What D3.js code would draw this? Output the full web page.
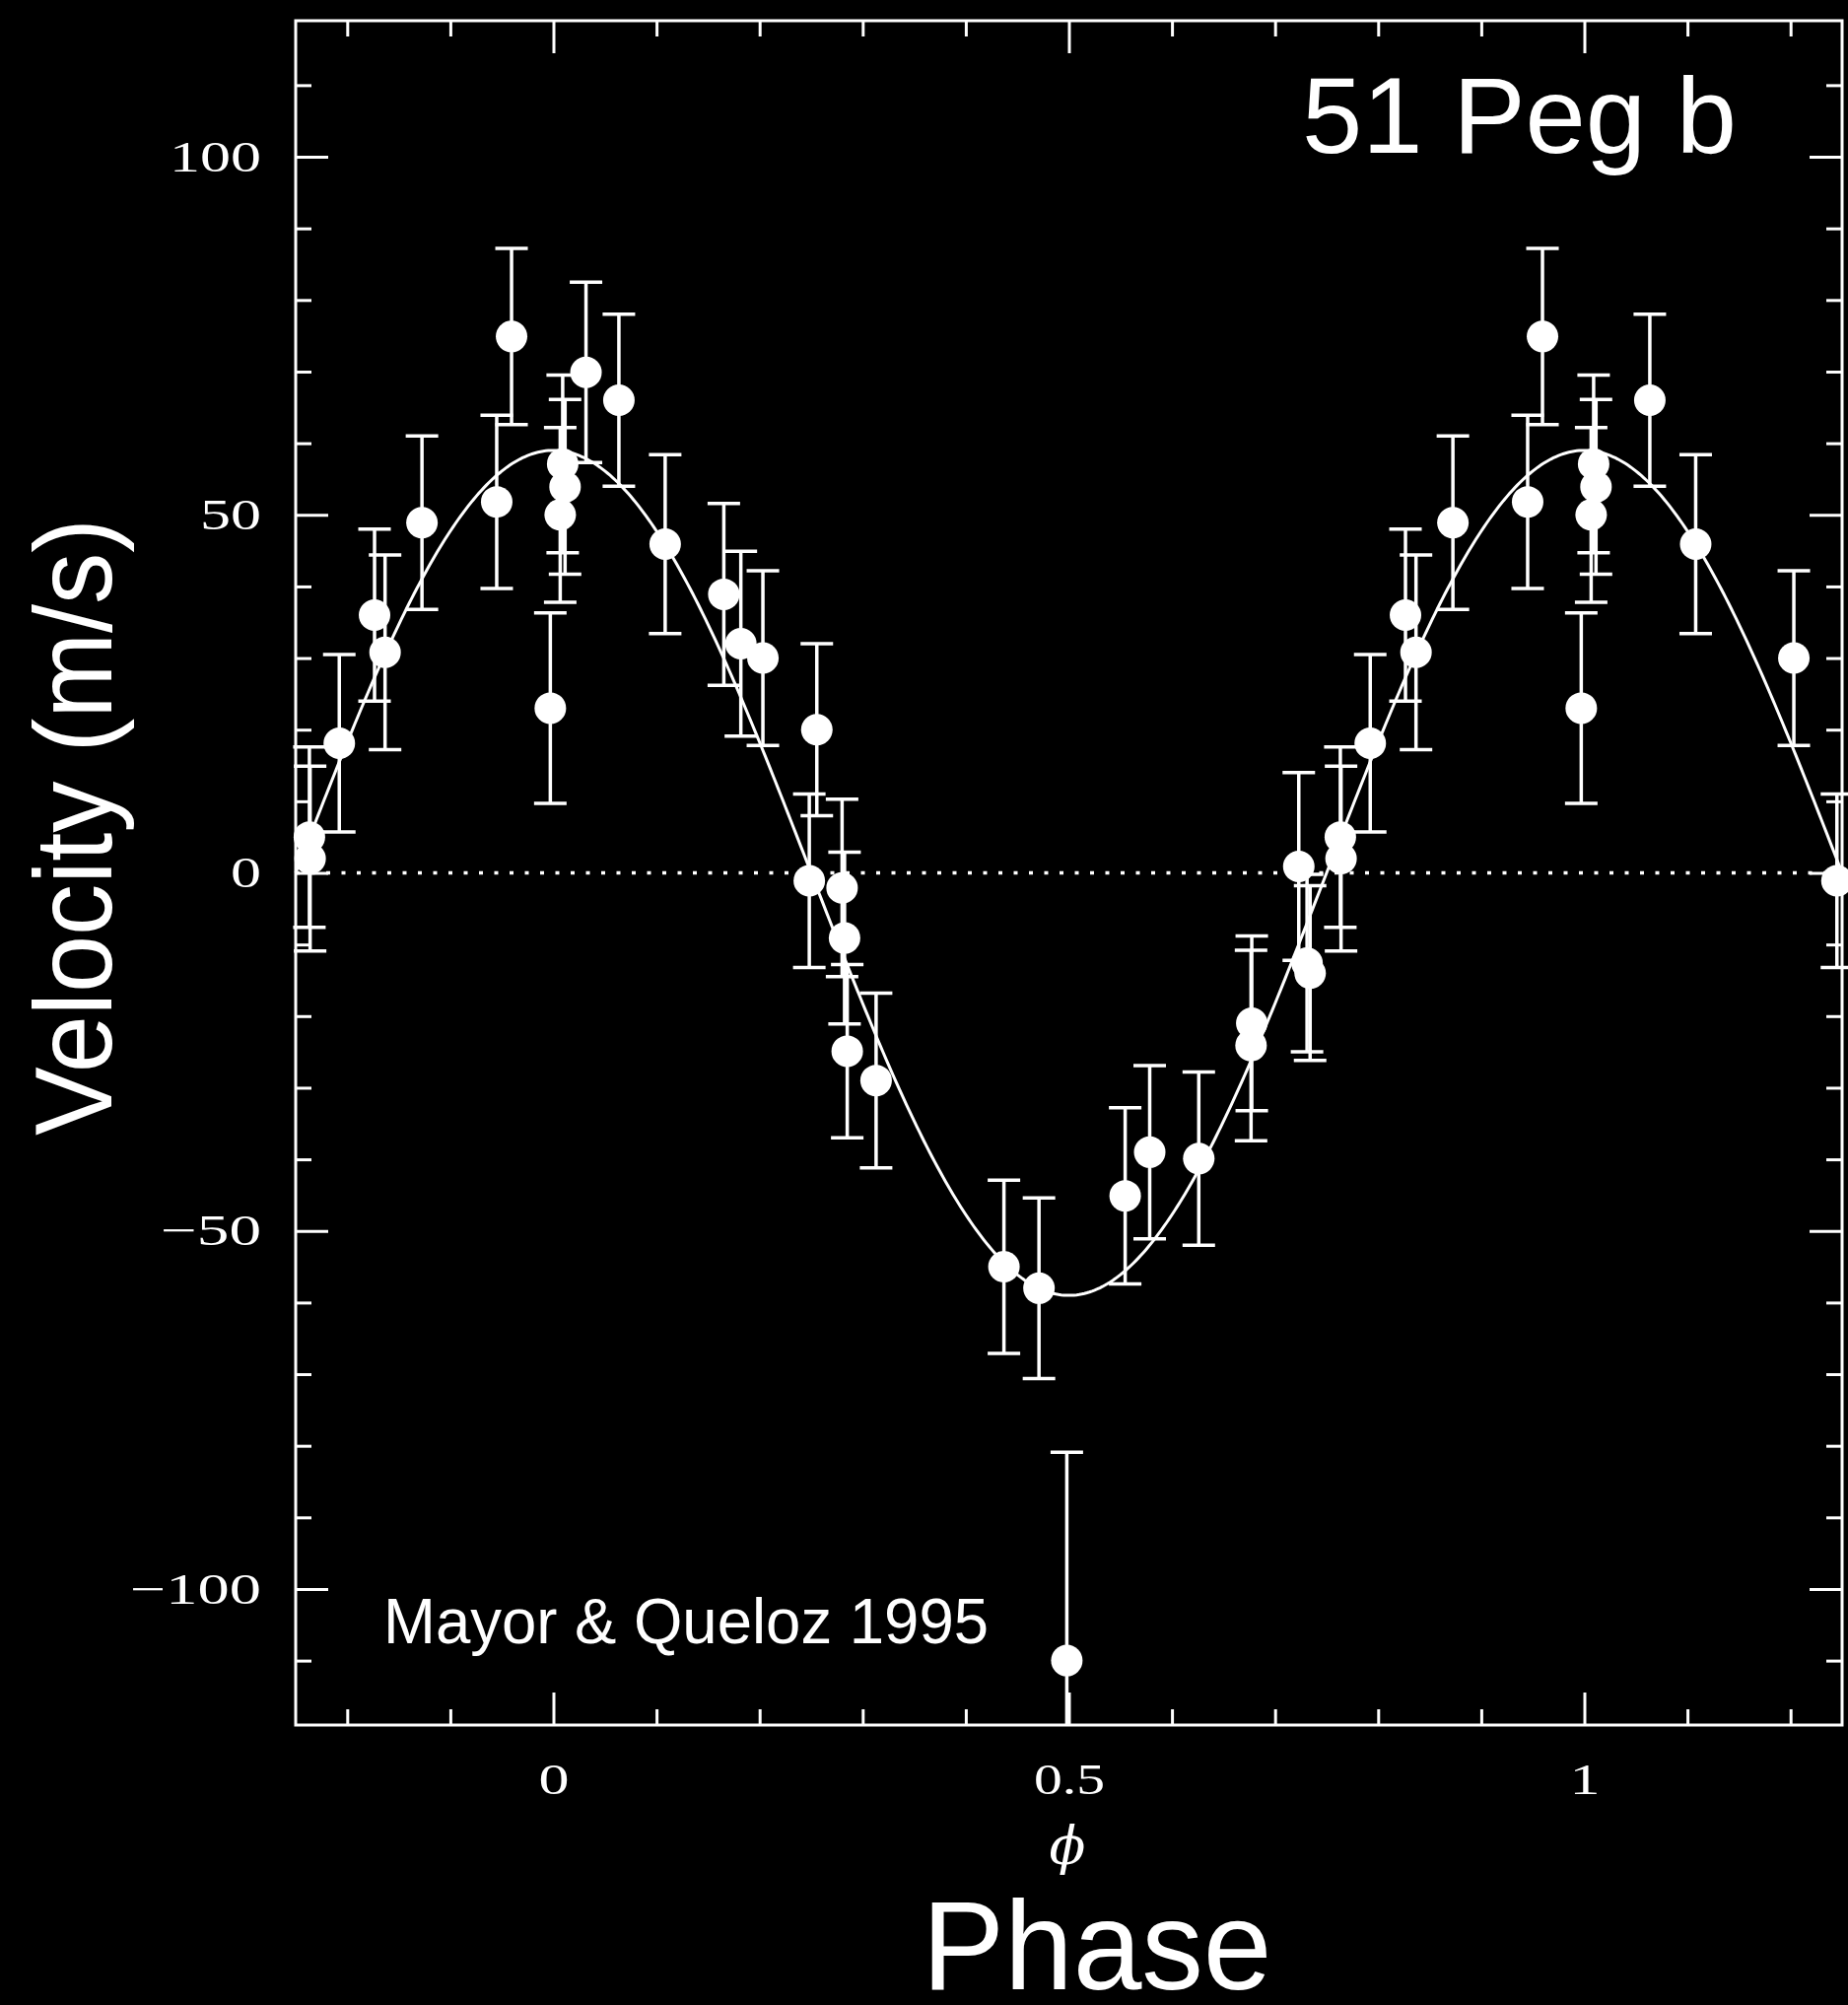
<!DOCTYPE html>
<html>
<head>
<meta charset="utf-8">
<script src="https://cdn.jsdelivr.net/npm/d3@7"></script>
<style>
  html, body { margin: 0; padding: 0; background: #000; }
  svg { display: block; }
</style>
</head>
<body>
<svg id="chart" width="1875" height="2034"></svg>
<script>
// Radial velocities of 51 Peg folded on the orbital period.
// Phases below 0 and above 1 repeat observations so the cycle reads continuously.
const phase = [
  -0.2367, -0.236, -0.2077, -0.1735, -0.1633, -0.1275, -0.055, -0.0406, -0.003,
  0.0066, 0.009, 0.0113, 0.0316, 0.0635, 0.1084, 0.1653, 0.1818, 0.2032,
  0.2482, 0.2555, 0.280, 0.2824, 0.285, 0.313, 0.437, 0.471, 0.498,
  0.5546, 0.5784, 0.626, 0.6767, 0.6774, 0.723, 0.731, 0.734,
  0.7633, 0.764, 0.7923, 0.8265, 0.8367, 0.8725, 0.945, 0.9594, 0.997,
  1.0066, 1.009, 1.0113, 1.0635, 1.108, 1.2032, 1.245
];
const velocity = [
  5.0, 2.0, 18.1, 36.0, 30.8, 48.9, 51.8, 74.9, 23.0,
  50.0, 57.1, 53.9, 69.9, 66.0, 45.9, 38.9, 32.0, 30.0,
  -1.1, 20.0, -2.1, -9.1, -24.9, -29.0, -55.0, -58.0, -110.0,
  -45.1, -39.0, -39.9, -24.1, -21.0, 0.9, -12.6, -14.0,
  5.0, 2.0, 18.1, 36.0, 30.8, 48.9, 51.8, 74.9, 23.0,
  50.0, 57.1, 53.9, 66.0, 45.9, 30.0, -1.1
];
const velocityError = [
  12.6, 12.9, 12.4, 12.0, 13.6, 12.1, 12.1, 12.3, 13.3,
  12.2, 12.4, 12.2, 12.6, 12.0, 12.5, 12.7, 12.9, 12.2,
  12.1, 12.0, 12.4, 12.0, 12.1, 12.2, 12.1, 12.6, 29.1,
  12.3, 12.1, 12.1, 13.3, 12.2, 13.1, 12.4, 12.2,
  12.6, 12.9, 12.4, 12.0, 13.6, 12.1, 12.1, 12.3, 13.3,
  12.2, 12.4, 12.2, 12.0, 12.5, 12.2, 12.1
];

// Fitted circular orbit, v(φ) = K cos 2πφ, with semi-amplitude K in m/s
const orbitSemiAmplitude = 59;

// Axis ticks and labels
const xMajorTicks = [0, 0.5, 1];
const xTickLabels = ["0", "0.5", "1"];
const xMinorTicks = [-0.2, -0.1, 0.1, 0.2, 0.3, 0.4, 0.6, 0.7, 0.8, 0.9, 1.1, 1.2];
const yMajorTicks = [-100, -50, 0, 50, 100];
const yTickLabels = ["\u2212100", "\u221250", "0", "50", "100"];
const yMinorTicks = [-110, -90, -80, -70, -60, -40, -30, -20, -10,
                     10, 20, 30, 40, 60, 70, 80, 90, 110];

(function drawChart() {
  const svg = d3.select("#chart");
  const width = 1875, height = 2034;
  const plotLeft = 300, plotRight = 1869, plotTop = 21, plotBottom = 1750;

  svg.append("rect").attr("width", width).attr("height", height).attr("fill", "#000");

  const x = d3.scaleLinear().domain([-0.25, 1.25]).range([plotLeft, plotRight]);
  const y = d3.scaleLinear().domain([-119, 119]).range([plotBottom, plotTop]);

  const majorLen = 33, minorLen = 16;
  const tickFont = "'Liberation Serif', 'Times New Roman', serif";

  // width of a tick label: digit cells with a wider minus sign
  function labelWidth(s) {
    let w = 0;
    for (const ch of s) w += ch === "\u2212" ? 40 : ch === "." ? 10 : 31;
    return w;
  }

  function styleAxis(g) {
    g.select(".domain").remove();
    g.selectAll(".tick line").attr("stroke", "#fff").attr("stroke-width", 3);
    g.selectAll(".tick text")
      .attr("fill", "#fff")
      .attr("font-family", tickFont)
      .attr("font-size", 44)
      .attr("textLength", function() { return labelWidth(this.textContent); })
      .attr("lengthAdjust", "spacingAndGlyphs");
  }

  // Left axis: labelled major ticks and minor ticks, pointing inward
  svg.append("g").attr("transform", `translate(${plotLeft},0)`)
    .call(d3.axisLeft(y).tickValues(yMajorTicks).tickSize(-majorLen).tickPadding(35)
      .tickFormat((d, i) => yTickLabels[i]))
    .call(styleAxis);
  svg.append("g").attr("transform", `translate(${plotLeft},0)`)
    .call(d3.axisLeft(y).tickValues(yMinorTicks).tickSize(-minorLen).tickFormat(""))
    .call(styleAxis);

  // Right axis: ticks only
  svg.append("g").attr("transform", `translate(${plotRight},0)`)
    .call(d3.axisRight(y).tickValues(yMajorTicks).tickSize(-majorLen).tickFormat(""))
    .call(styleAxis);
  svg.append("g").attr("transform", `translate(${plotRight},0)`)
    .call(d3.axisRight(y).tickValues(yMinorTicks).tickSize(-minorLen).tickFormat(""))
    .call(styleAxis);

  // Bottom axis: labelled
  svg.append("g").attr("transform", `translate(0,${plotBottom})`)
    .call(d3.axisBottom(x).tickValues(xMajorTicks).tickSize(-majorLen).tickPadding(39)
      .tickFormat((d, i) => xTickLabels[i]))
    .call(styleAxis);
  svg.append("g").attr("transform", `translate(0,${plotBottom})`)
    .call(d3.axisBottom(x).tickValues(xMinorTicks).tickSize(-minorLen).tickFormat(""))
    .call(styleAxis);

  // Top axis: ticks only
  svg.append("g").attr("transform", `translate(0,${plotTop})`)
    .call(d3.axisTop(x).tickValues(xMajorTicks).tickSize(-majorLen).tickFormat(""))
    .call(styleAxis);
  svg.append("g").attr("transform", `translate(0,${plotTop})`)
    .call(d3.axisTop(x).tickValues(xMinorTicks).tickSize(-minorLen).tickFormat(""))
    .call(styleAxis);

  // Plot frame
  svg.append("rect")
    .attr("x", plotLeft).attr("y", plotTop)
    .attr("width", plotRight - plotLeft).attr("height", plotBottom - plotTop)
    .attr("fill", "none").attr("stroke", "#fff").attr("stroke-width", 3);

  // Zero-velocity reference
  svg.append("line")
    .attr("x1", x(-0.25)).attr("x2", x(1.25))
    .attr("y1", y(0)).attr("y2", y(0))
    .attr("stroke", "#fff").attr("stroke-width", 3.5)
    .attr("stroke-dasharray", "4 11.5");

  // Orbit fit
  const fitPhase = d3.range(-0.25, 1.25 + 1e-9, 0.0025);
  const line = d3.line()
    .x(p => x(p))
    .y(p => y(orbitSemiAmplitude * Math.cos(2 * Math.PI * p)));
  svg.append("path")
    .datum(fitPhase)
    .attr("d", line)
    .attr("fill", "none").attr("stroke", "#fff").attr("stroke-width", 3);

  // Observations with error bars
  const obs = phase.map((p, i) => ({ p, v: velocity[i], e: velocityError[i] }));
  const [yMin, yMax] = y.domain();
  const capHalf = 16.5;
  const bars = svg.append("g").attr("stroke", "#fff").attr("stroke-width", 3.5);
  obs.forEach(d => {
    const lo = d.v - d.e, hi = d.v + d.e;
    const cx = x(d.p);
    bars.append("line")
      .attr("x1", cx).attr("x2", cx)
      .attr("y1", y(Math.max(lo, yMin))).attr("y2", y(Math.min(hi, yMax)));
    [lo, hi].forEach(end => {
      if (end >= yMin && end <= yMax) {
        bars.append("line")
          .attr("x1", cx - capHalf).attr("x2", cx + capHalf)
          .attr("y1", y(end)).attr("y2", y(end));
      }
    });
  });
  svg.append("g").selectAll("circle")
    .data(obs)
    .join("circle")
    .attr("cx", d => x(d.p))
    .attr("cy", d => y(d.v))
    .attr("r", 16)
    .attr("fill", "#fff");

  // Text
  const sans = "'Liberation Sans', Arial, Helvetica, sans-serif";

  svg.append("text")
    .attr("x", 1321).attr("y", 155)
    .attr("fill", "#fff").attr("font-family", sans).attr("font-size", 110)
    .attr("textLength", 441).attr("lengthAdjust", "spacingAndGlyphs")
    .text("51 Peg b");

  svg.append("text")
    .attr("x", 389).attr("y", 1667)
    .attr("fill", "#fff").attr("font-family", sans).attr("font-size", 64)
    .attr("textLength", 614).attr("lengthAdjust", "spacingAndGlyphs")
    .text("Mayor & Queloz 1995");

  svg.append("text")
    .attr("x", 1083).attr("y", 1891)
    .attr("text-anchor", "middle")
    .attr("fill", "#fff")
    .attr("font-family", "'DejaVu Serif', serif")
    .attr("font-style", "italic")
    .attr("font-size", 54)
    .text("\u03D5");

  svg.append("text")
    .attr("x", 1113).attr("y", 2018)
    .attr("text-anchor", "middle")
    .attr("fill", "#fff").attr("font-family", sans).attr("font-size", 128)
    .attr("textLength", 355).attr("lengthAdjust", "spacingAndGlyphs")
    .text("Phase");

  svg.append("text")
    .attr("transform", "translate(113,839) rotate(-90)")
    .attr("text-anchor", "middle")
    .attr("fill", "#fff").attr("font-family", sans).attr("font-size", 112)
    .attr("textLength", 626).attr("lengthAdjust", "spacingAndGlyphs")
    .text("Velocity (m/s)");
})();
</script>
</body>
</html>
